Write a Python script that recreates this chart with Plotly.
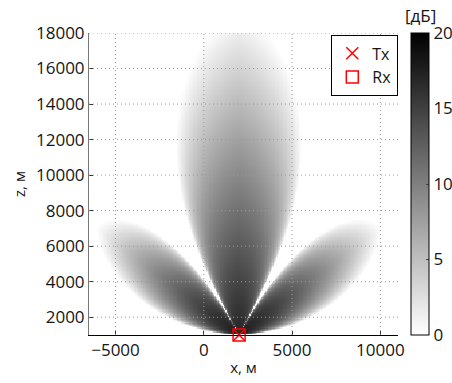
import numpy as np
import plotly.graph_objects as go

# ---- data ----
src_x, src_z = 2000.0, 1000.0          # Tx / Rx position, m
tx_x = [2000]; tx_z = [1000]
rx_x = [2000]; rx_z = [1000]

# lobe description (angles from vertical, +right)
lobe_center_deg = [0.0, -53.0, 53.0]
lobe_null_lo_deg = [-29.0, -90.0, 29.0]
lobe_null_hi_deg = [29.0, -29.0, 90.0]
lobe_q_lo = [1.3, 1.3, 2.0]
lobe_q_hi = [1.3, 2.0, 1.3]
lobe_a_lo = [0.6, 1.1, 0.8]
lobe_a_hi = [0.6, 0.8, 1.1]
lobe_range_m = [18400.0, 10060.0, 10060.0]
lobe_peak_db = [17.0, 17.5, 17.5]
lobe_decay = [1.1, 1.4, 1.4]

x_ticks = [-5000, 0, 5000, 10000]
x_tick_text = ["\u22125000", "0", "5000", "10000"]
z_ticks = [2000, 4000, 6000, 8000, 10000, 12000, 14000, 16000, 18000]
z_tick_text = ["2000", "4000", "6000", "8000", "10000", "12000", "14000", "16000", "18000"]
cbar_ticks = [0, 5, 10, 15, 20]

x_range = [-6500, 11000]
z_range = [1000, 18000]

# ---- field grid ----
xs = np.linspace(x_range[0], x_range[1], 231)
zs = np.linspace(z_range[0], z_range[1], 231)
X, Z = np.meshgrid(xs, zs)
dx = X - src_x
dz = Z - src_z
R = np.hypot(dx, dz)
TH = np.degrees(np.arctan2(dx, dz))

field = np.zeros_like(X)
for c, lo, hi, qlo, qhi, alo, ahi, Rm, P, p in zip(lobe_center_deg, lobe_null_lo_deg, lobe_null_hi_deg,
                                                   lobe_q_lo, lobe_q_hi, lobe_a_lo, lobe_a_hi,
                                                   lobe_range_m, lobe_peak_db, lobe_decay):
    below = TH < c
    t = np.where(below, (c - TH) / (c - lo), (TH - c) / (hi - c))
    q = np.where(below, qlo, qhi)
    a = np.where(below, alo, ahi)
    tc = np.clip(t, 0, 1)
    g = np.power(np.clip(1 - np.power(tc, q), 0, 1), a)
    rb = Rm * g
    u = np.where((t < 1) & (rb > 0), R / np.maximum(rb, 1e-9), 2.0)
    val = np.where(u < 1, P * (1 - np.power(np.clip(u, 0, 1), p)), 0.0)
    field = np.maximum(field, val)

field = np.round(field, 2)

font = "Open Sans"
txt = "#151515"

fig = go.Figure()
fig.add_trace(go.Heatmap(
    x=xs, z=field, y=zs,
    zmin=0, zmax=20,
    colorscale=[[0, "#ffffff"], [1, "#000000"]],
    showscale=True,
    showlegend=False,
    hoverinfo="skip",
    colorbar=dict(
        x=(411 - 89) / 309, xanchor="left", xref="paper", xpad=0,
        y=0, yanchor="bottom", len=1, lenmode="fraction", ypad=0,
        thickness=18, outlinewidth=1, outlinecolor="black",
        tickvals=cbar_ticks, ticks="inside", ticklen=3, tickcolor="#444",
        tickfont=dict(family=font, size=17, color=txt),
    ),
))
fig.add_trace(go.Scatter(
    x=tx_x, y=tx_z, mode="markers", name="Tx", cliponaxis=False,
    marker=dict(symbol="x-thin", size=12, color="red", line=dict(color="red", width=1.5)),
))
fig.add_trace(go.Scatter(
    x=rx_x, y=rx_z, mode="markers", name="Rx", cliponaxis=False,
    marker=dict(symbol="square-open", size=12, color="red", line=dict(color="red", width=1.5)),
))

# dotted grid drawn above the field
grid_line = dict(color="#9a9a9a", width=1, dash="1px,3px")
shapes = []
for xv in x_ticks:
    shapes.append(dict(type="line", xref="x", yref="y", x0=xv, x1=xv, y0=z_range[0], y1=z_range[1],
                       line=grid_line, layer="above"))
for zv in z_ticks:
    shapes.append(dict(type="line", xref="x", yref="y", x0=x_range[0], x1=x_range[1], y0=zv, y1=zv,
                       line=grid_line, layer="above"))

fig.update_layout(
    width=452, height=383,
    margin=dict(l=89, r=54, t=33, b=48, autoexpand=False),
    paper_bgcolor="white", plot_bgcolor="white",
    font=dict(family=font, size=17, color=txt),
    shapes=shapes,
    annotations=[dict(text="[дБ]", xref="paper", yref="paper", x=(420 - 89) / 309, y=1.0,
                      xanchor="center", yanchor="bottom", yshift=4, showarrow=False,
                      font=dict(family=font, size=17, color=txt))],
    legend=dict(
        x=(331 - 89) / 309, y=0.993, xanchor="left", yanchor="top",
        bgcolor="white", bordercolor="black", borderwidth=1.3,
        font=dict(family=font, size=16, color=txt),
        itemwidth=30, tracegroupgap=0,
    ),
    xaxis=dict(
        range=x_range, tickvals=x_ticks, ticktext=x_tick_text,
        showgrid=False, zeroline=False, showline=True, linecolor="black", linewidth=1,
        ticks="inside", ticklen=4, tickcolor="#333", layer="above traces",
        tickfont=dict(family=font, size=17, color=txt),
        title=dict(text="x, м", font=dict(family=font, size=15, color=txt), standoff=2),
    ),
    yaxis=dict(
        range=z_range, tickvals=z_ticks, ticktext=z_tick_text,
        showgrid=False, zeroline=False, showline=True, linecolor="#777", linewidth=1,
        ticks="inside", ticklen=4, tickcolor="#333", layer="above traces",
        tickfont=dict(family=font, size=17, color=txt),
        title=dict(text="z, м", font=dict(family=font, size=15, color=txt), standoff=6),
    ),
)

fig.write_html("out.html")
